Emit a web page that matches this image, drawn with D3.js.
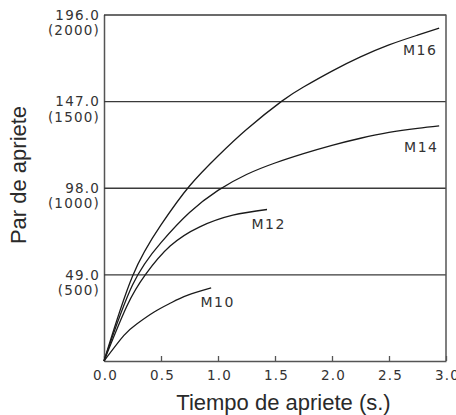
<!DOCTYPE html>
<html>
<head>
<meta charset="utf-8">
<script src="https://cdn.jsdelivr.net/npm/d3@7"></script>
<style>
  body { margin: 0; background: #fff; }
  .tickTxt { font-family: "DejaVu Sans", sans-serif; font-size: 13.5px; fill: #333; letter-spacing: 1.2px; }
  .curveLbl { font-family: "DejaVu Sans", sans-serif; font-size: 14px; fill: #333; letter-spacing: 1.5px; }
  .axisTitle { font-family: "Liberation Sans", Arial, sans-serif; font-size: 22px; fill: #2a2a2a; }
</style>
</head>
<body>
<div id="chart"></div>
<script>
// tick values
var timeTicks = [0, 0.5, 1.0, 1.5, 2.0, 2.5, 3.0];
var torqueTicks = [49, 98, 147, 196];   // N·m
var kgfTicks = [500, 1000, 1500, 2000]; // kgf·cm

// curves (time s., torque)
var seriesNames = ["M10", "M12", "M14", "M16"];
var m10Time = [0, 0.175, 0.29, 0.44, 0.585, 0.73, 0.94];
var m10Torque = [0, 14.5, 21.1, 27.7, 32.8, 37.1, 41.3];
var m12Time = [0, 0.2, 0.365, 0.58, 0.84, 1.13, 1.43];
var m12Torque = [0, 31, 49, 65, 75.9, 82.5, 85.7];
var m14Time = [0, 0.25, 0.5, 0.75, 1.0, 1.25, 1.5, 1.75, 2.0, 2.25, 2.5, 2.75, 2.94];
var m14Torque = [0, 43, 67, 84, 96.5, 105.5, 112, 117.3, 122, 126, 129.3, 131.6, 133];
var m16Time = [0, 0.25, 0.5, 0.75, 1.0, 1.25, 1.56, 1.75, 2.0, 2.25, 2.5, 2.75, 2.94];
var m16Torque = [0, 48, 77, 99, 116, 131, 147, 155, 164, 172, 178.8, 184.3, 188.3];

// where each curve name sits (time, torque of the text baseline)
var labelTime = [0.846, 1.294, 2.632, 2.623];
var labelTorque = [30.5, 74.7, 118.2, 173.1];

var curveTimes = [m10Time, m12Time, m14Time, m16Time];
var curveTorques = [m10Torque, m12Torque, m14Torque, m16Torque];

(function () {
  'use strict'
  var W = 456, H = 415;
  var margin = {top: 14.5, right: 10, bottom: 54, left: 104};

  var svg = d3.select("#chart").append("svg")
      .attr("width", W)
      .attr("height", H);

  var x = d3.scaleLinear().domain([0, 3]).range([margin.left, 446]);
  var y = d3.scaleLinear().domain([0, 196]).range([361, margin.top]);

  // horizontal grid + left axis with two-line labels
  var yAxis = svg.append("g")
      .attr("class", "yAxis")
      .attr("transform", "translate(" + x(0) + ",0)")
      .call(d3.axisLeft(y).tickValues(torqueTicks).tickSizeInner(-(x(3) - x(0))).tickSizeOuter(0).tickPadding(4));

  yAxis.selectAll(".tick line").attr("stroke", "#3a3a3a").attr("stroke-width", 1.3);
  yAxis.select(".domain").attr("stroke", "#555").attr("stroke-width", 1.5);
  yAxis.selectAll(".tick text")
      .attr("class", "tickTxt")
      .attr("dy", null)
      .attr("font-size", null).attr("font-family", null)
      .text(null)
      .each(function (d, i) {
        var t = d3.select(this);
        t.append("tspan").attr("x", -4).attr("y", 4.8).text(d3.format(".1f")(d));
        t.append("tspan").attr("x", -4).attr("y", 20).text("(" + kgfTicks[i] + ")");
      });

  // bottom axis, ticks pointing inward
  var xAxis = svg.append("g")
      .attr("class", "xAxis")
      .attr("transform", "translate(0," + y(0) + ")")
      .call(d3.axisBottom(x).tickValues(timeTicks).tickFormat(d3.format(".1f")).tickSizeInner(-5).tickSizeOuter(0).tickPadding(9.5));

  xAxis.select(".domain").attr("stroke", "#555").attr("stroke-width", 1.5);
  xAxis.selectAll(".tick line").attr("stroke", "#555").attr("stroke-width", 1.3);
  xAxis.selectAll(".tick text")
      .attr("class", "tickTxt")
      .attr("font-size", null).attr("font-family", null)
      .attr("dx", 1);

  // right border
  svg.append("line")
      .attr("x1", x(3)).attr("x2", x(3))
      .attr("y1", y(196)).attr("y2", y(0))
      .attr("stroke", "#555").attr("stroke-width", 1.5);

  // curves
  var line = d3.line()
      .x(function (d) { return x(d[0]); })
      .y(function (d) { return y(d[1]); })
      .curve(d3.curveNatural);

  var curveData = seriesNames.map(function (name, i) {
    return curveTimes[i].map(function (t, j) { return [t, curveTorques[i][j]]; });
  });

  svg.append("g").selectAll("path")
      .data(curveData)
      .enter().append("path")
      .attr("d", line)
      .attr("fill", "none")
      .attr("stroke", "#1a1a1a")
      .attr("stroke-width", 1.3);

  // curve names
  svg.append("g").selectAll("text")
      .data(seriesNames)
      .enter().append("text")
      .attr("class", "curveLbl")
      .attr("x", function (d, i) { return x(labelTime[i]); })
      .attr("y", function (d, i) { return y(labelTorque[i]); })
      .text(function (d) { return d; });

  // axis titles
  svg.append("text")
      .attr("class", "axisTitle")
      .attr("text-anchor", "middle")
      .attr("x", 283.5)
      .attr("y", 410)
      .text("Tiempo de apriete (s.)");

  svg.append("text")
      .attr("class", "axisTitle")
      .attr("text-anchor", "middle")
      .attr("transform", "translate(26,175) rotate(-90)")
      .text("Par de apriete");
})()
</script>
</body>
</html>
